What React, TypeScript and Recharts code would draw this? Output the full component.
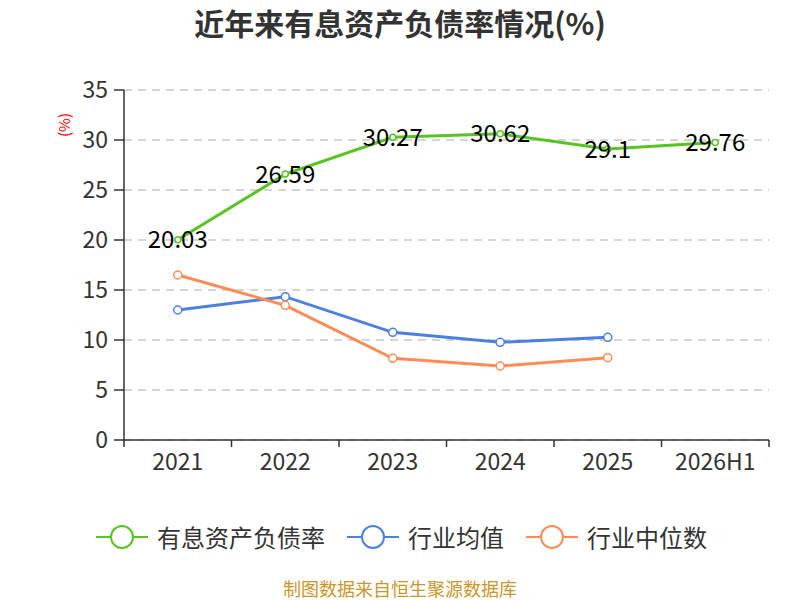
import React from 'react';
import { LineChart, Line, XAxis, YAxis, CartesianGrid, Legend, LabelList } from 'recharts';

const years = ['2021', '2022', '2023', '2024', '2025', '2026H1'];
const debtRatio = [20.03, 26.59, 30.27, 30.62, 29.1, 29.76];
const industryAvg = [13.0, 14.33, 10.77, 9.77, 10.27, null];
const industryMedian = [16.5, 13.47, 8.17, 7.4, 8.23, null];
const yTicks = [0, 5, 10, 15, 20, 25, 30, 35];

const series = [
  { key: 'ratio', name: '有息资产负债率', color: '#58c422', dotR: 3 },
  { key: 'avg', name: '行业均值', color: '#4b80e0', dotR: 4 },
  { key: 'median', name: '行业中位数', color: '#ff8c55', dotR: 4 },
];

const data = years.map((year, i) => ({
  year,
  ratio: debtRatio[i],
  avg: industryAvg[i],
  median: industryMedian[i],
}));

const FONT = '"Noto Sans CJK SC", "Noto Sans", sans-serif';
const LABEL_GAP = 14;

// category label centred in its band, with tick marks on the band edges
const YearTick = (props: any) => {
  const { x, y, payload, index, width } = props;
  const bw = (typeof width === 'number' && width > 0 ? width : 645) / years.length;
  const y0 = y - LABEL_GAP;
  return (
    <g>
      <line x1={x - bw / 2} y1={y0} x2={x - bw / 2} y2={y0 + 7} stroke="#333" strokeWidth={1.5} />
      {index === years.length - 1 && (
        <line x1={x + bw / 2} y1={y0} x2={x + bw / 2} y2={y0 + 7} stroke="#333" strokeWidth={1.5} />
      )}
      <text x={x} y={y} dy="0.71em" textAnchor="middle" fontSize={23} fill="#333">
        {payload.value}
      </text>
    </g>
  );
};

const ValueLabel = (props: any) => {
  const { x, y, value } = props;
  return (
    <text x={x} y={y} dy={-2} textAnchor="middle" dominantBaseline="central" fontSize={24} fill="#000">
      {value}
    </text>
  );
};

const LegendRow = () => (
  <div style={{ height: 120, display: 'flex', justifyContent: 'center', alignItems: 'flex-start' }}>
    <div style={{ display: 'flex', gap: 22, marginTop: 42, marginLeft: 34 }}>
      {series.map((s) => (
        <div key={s.key} style={{ display: 'flex', alignItems: 'center', height: 30 }}>
          <svg width={52} height={30}>
            <line x1={0} y1={15} x2={52} y2={15} stroke={s.color} strokeWidth={2} />
            <circle cx={26} cy={15} r={11} fill="#fff" stroke={s.color} strokeWidth={2} />
          </svg>
          <span style={{ marginLeft: 9, fontSize: 24, color: '#333', lineHeight: '30px' }}>{s.name}</span>
        </div>
      ))}
    </div>
  </div>
);

export default function App() {
  return (
    <div style={{ position: 'absolute', left: 0, top: 0, width: 800, height: 600, background: '#fff', fontFamily: FONT, overflow: 'hidden' }}>
      <div
        style={{
          position: 'absolute', top: 3, left: 0, width: 800, textAlign: 'center',
          fontSize: 30, fontWeight: 'bold', color: '#333', lineHeight: '38px',
        }}
      >
        近年来有息资产负债率情况(%)
      </div>
      <div
        style={{
          position: 'absolute', left: 63, top: 125, transform: 'translate(-50%, -50%) rotate(-90deg)',
          fontSize: 15, color: '#f00', whiteSpace: 'nowrap',
        }}
      >
        (%)
      </div>
      <LineChart width={800} height={600} data={data} margin={{ top: 90, right: 31, left: 0, bottom: 0 }}>
        <CartesianGrid vertical={false} stroke="#c8c8c8" strokeDasharray="8 6" strokeWidth={1.5} />
        <XAxis
          dataKey="year"
          scale="band"
          height={40}
          tickLine={false}
          tickSize={0}
          tickMargin={LABEL_GAP}
          axisLine={{ stroke: '#333', strokeWidth: 1.5 }}
          tick={YearTick}
          interval={0}
        />
        <YAxis
          domain={[0, 35]}
          ticks={yTicks}
          width={124}
          axisLine={{ stroke: '#333', strokeWidth: 1.5 }}
          tickLine={{ stroke: '#333', strokeWidth: 1.5 }}
          tickSize={10}
          tickMargin={6}
          tick={{ fill: '#333', fontSize: 23 }}
        />
        <Legend verticalAlign="bottom" content={() => <LegendRow />} />
        {series.map((s) => (
          <Line
            key={s.key}
            dataKey={s.key}
            name={s.name}
            type="linear"
            stroke={s.color}
            strokeWidth={3}
            dot={{ r: s.dotR, fill: '#fff', stroke: s.color, strokeWidth: 1.5 }}
            activeDot={false}
            isAnimationActive={false}
          >
            {s.key === 'ratio' && <LabelList dataKey="ratio" content={ValueLabel} />}
          </Line>
        ))}
      </LineChart>
      <div
        style={{
          position: 'absolute', top: 577, left: 0, width: 800, textAlign: 'center',
          fontSize: 18, color: '#c9962a', lineHeight: '22px',
        }}
      >
        制图数据来自恒生聚源数据库
      </div>
    </div>
  );
}
